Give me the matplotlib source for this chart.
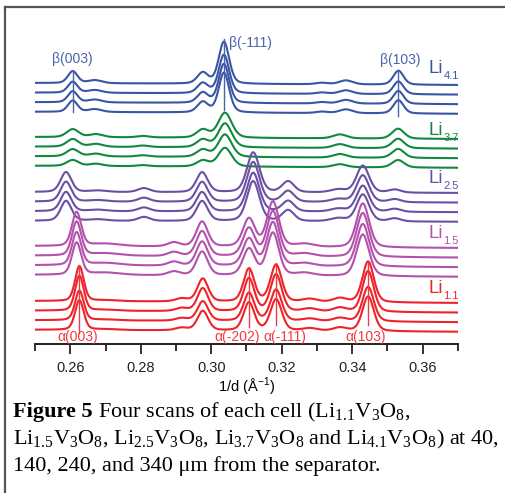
import numpy as np
import matplotlib.pyplot as plt
from matplotlib.lines import Line2D

plt.rcParams['font.family'] = ['Liberation Sans', 'DejaVu Sans']

# peak lists: (1/d position, height, fwhm) for the top scan of each cell
groups = ["Li4.1", "Li3.7", "Li2.5", "Li1.5", "Li1.1"]
colors = ["#3a55a5", "#10893f", "#6a4fa4", "#b451ad", "#ef2229"]

peaks_li41 = [(0.2607, 12, 0.0032), (0.2670, 3, 0.0045), (0.2976, 11, 0.0036),
              (0.3036, 42, 0.0035), (0.3314, 1.5, 0.004), (0.3382, 4, 0.0045),
              (0.3531, 14, 0.0034)]
peaks_li37 = [(0.2607, 8, 0.0040), (0.2673, 3, 0.0045), (0.2806, 1.5, 0.004),
              (0.2976, 8, 0.0040), (0.3039, 25, 0.0045), (0.3365, 4, 0.0045),
              (0.3530, 10, 0.0040)]
peaks_li25 = [(0.2588, 20, 0.0036), (0.2679, 1.5, 0.006), (0.2809, 4, 0.0040),
              (0.2974, 20, 0.0038), (0.3119, 40, 0.0042), (0.3218, 11, 0.0040),
              (0.3360, 3, 0.005), (0.3430, 27, 0.0042), (0.3521, 3, 0.004)]
peaks_li15 = [(0.2618, 34, 0.0031), (0.2700, 2.5, 0.010), (0.2894, 4, 0.0040),
              (0.2974, 25, 0.0038), (0.3107, 28, 0.0040), (0.3175, 45, 0.0040),
              (0.3265, 3, 0.006), (0.3430, 44, 0.0042)]
peaks_li11 = [(0.2626, 35, 0.0029), (0.2700, 1, 0.008), (0.2916, 3, 0.0040),
              (0.2976, 23, 0.0036), (0.3107, 33, 0.0036), (0.3184, 37, 0.0038),
              (0.3280, 3, 0.005), (0.3365, 4, 0.0045), (0.3445, 41, 0.0038)]
all_peaks = [peaks_li41, peaks_li37, peaks_li25, peaks_li15, peaks_li11]

# relative intensity of the four scans (40, 140, 240, 340 um)
scan_scale = [[1.0, 0.92, 0.93, 0.95],
              [1.0, 0.96, 0.9, 0.75],
              [1.0, 1.0, 0.97, 1.0],
              [1.0, 1.0, 0.97, 0.95],
              [1.0, 1.0, 0.85, 0.85]]

# stacking (offset of each scan, left / right end)
top_left = [261, 207, 152, 98, 43]
top_right = [259, 205, 151, 96, 41]
spacing = 9.6

# reflection marks
beta_pos = [0.2607, 0.3036, 0.3531]
beta_names = ["β(003)", "β(-111)", "β(103)"]
alpha_pos = [0.2626, 0.3107, 0.3184, 0.3445]
alpha_names = ["α(003)", "α(-202)", "α(-111)", "α(103)"]


def profile(x, peaks, scale):
    y = np.zeros_like(x)
    for c, h, w in peaks:
        g = np.exp(-4 * np.log(2) * (x - c) ** 2 / w ** 2)
        l = 1 / (1 + 4 * (x - c) ** 2 / w ** 2)
        y += h * scale * (0.7 * g + 0.3 * l)
    return y


fig = plt.figure(figsize=(5.06, 4.93), dpi=100)
W, H = 506, 493
ax = fig.add_axes([35 / W, (H - 344) / H, 423 / W, 337 / H])

x = np.linspace(0.25, 0.37, 800)
t = (x - 0.25) / 0.12
for gi, name in enumerate(groups):
    for si in range(4):
        base = (top_left[gi] - si * spacing) * (1 - t) + (top_right[gi] - si * spacing) * t
        ax.plot(x, base + profile(x, all_peaks[gi], scan_scale[gi][si]),
                color=colors[gi], lw=1.5, solid_capstyle='round')

# reflection lines and labels
bc = "#4a63ad"
ac = "#ef3a3f"
for q, lo, hi in zip(beta_pos, [232, 234, 228], [273, 305, 274]):
    ax.plot([q, q], [lo, hi], color=bc, lw=1.0)
for q, lo, hi in zip(alpha_pos, [11, 17, 19, 19], [79, 77, 81, 82]):
    ax.plot([q, q], [lo, hi], color=ac, lw=1.0)

ax.text(0.2607, 285, beta_names[0], color=bc, fontsize=10, ha='center', va='center')
ax.text(0.3050, 301, beta_names[1], color=bc, fontsize=10, ha='left', va='center')
ax.text(0.3535, 284, beta_names[2], color=bc, fontsize=10, ha='center', va='center')
for q, s in zip([0.2622, 0.3073, 0.3208, 0.3438], alpha_names):
    ax.text(q, 6.5, s, color=ac, fontsize=10, ha='center', va='center')

# cell labels
li_base = [271, 209, 161, 106, 51]
for gi, name in enumerate(groups):
    ax.text(0.3657, li_base[gi], "Li", color=colors[gi], fontsize=13.5,
            ha='right', va='baseline')
    ax.text(0.3659, li_base[gi] - 6, name[2:], color=colors[gi], fontsize=8,
            ha='left', va='baseline')

ax.set_xlim(0.25, 0.37)
ax.set_ylim(0, 337)
for s in ['left', 'right', 'top']:
    ax.spines[s].set_visible(False)
ax.spines['bottom'].set_linewidth(1.4)
ax.spines['bottom'].set_color('#222222')
ax.set_yticks([])
ax.set_xticks([0.26, 0.28, 0.30, 0.32, 0.34, 0.36])
ax.set_xticks(np.arange(0.25, 0.3701, 0.01), minor=True)
ax.set_xticklabels(["0.26", "0.28", "0.30", "0.32", "0.34", "0.36"])
ax.tick_params(axis='x', which='major', length=7, width=1.3, labelsize=10.5,
               colors='#222222', pad=5)
ax.tick_params(axis='x', which='minor', length=5, width=1.3, colors='#222222')
ax.set_xlabel(r"1/d (Å$^{\mathregular{-1}}$)", fontsize=10.5, labelpad=1)
ax.patch.set_alpha(0)

# frame around figure + caption
fig.add_artist(Line2D([5 / W, 1], [1 - 7 / H, 1 - 7 / H], transform=fig.transFigure,
                      color='#555555', lw=1.6))
fig.add_artist(Line2D([5 / W, 5 / W], [0, 1 - 7 / H], transform=fig.transFigure,
                      color='#555555', lw=1.6))

cap = dict(family='Liberation Serif', fontsize=16, va='baseline', ha='left')
head = fig.text(13 / W, 1 - 417 / H, "Figure 5", fontweight='bold', **cap)
fig.canvas.draw()
hx = head.get_window_extent().x1 + 5
fig.text(hx / W, 1 - 417 / H,
         r"Four scans of each cell (Li$_{\mathregular{1.1}}$V$_{\mathregular{3}}$O$_{\mathregular{8}}$,",
         **cap)
fig.text(13 / W, 1 - 444 / H,
         r"Li$_{\mathregular{1.5}}$V$_{\mathregular{3}}$O$_{\mathregular{8}}$, "
         r"Li$_{\mathregular{2.5}}$V$_{\mathregular{3}}$O$_{\mathregular{8}}$, "
         r"Li$_{\mathregular{3.7}}$V$_{\mathregular{3}}$O$_{\mathregular{8}}$ and "
         r"Li$_{\mathregular{4.1}}$V$_{\mathregular{3}}$O$_{\mathregular{8}}$) at 40,",
         **cap)
fig.text(13 / W, 1 - 471 / H, "140, 240, and 340 μm from the separator.", **cap)

fig.savefig("out.png", dpi=100)
